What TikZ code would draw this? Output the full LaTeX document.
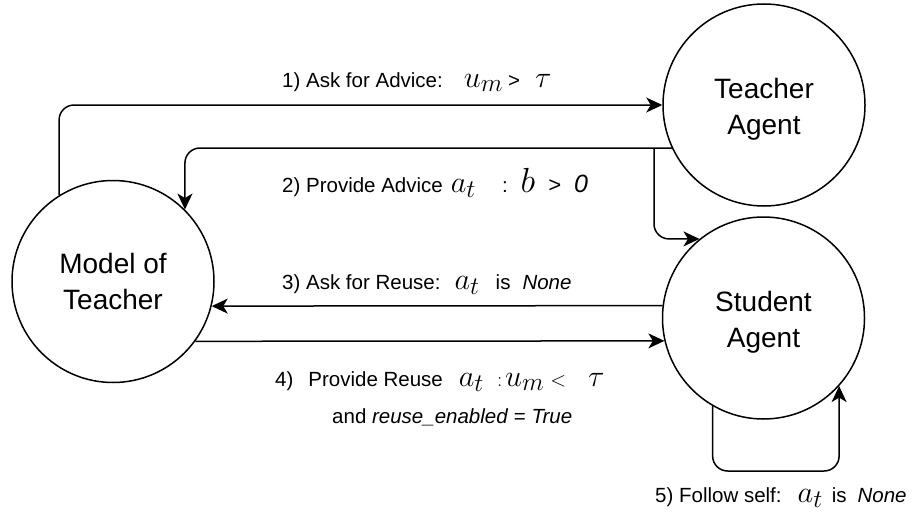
\documentclass[tikz,border=0pt]{standalone}
\usepackage{graphicx}
\usepackage{fontspec}
\setmainfont{Liberation Sans}
\usetikzlibrary{arrows.meta}
\newcommand\mth[1]{\scalebox{1.22}{\fontsize{24.88}{26}\selectfont$#1$}}
\newcommand\mthb[1]{\scalebox{1.4}{\fontsize{24.88}{26}\selectfont$#1$}}
\newcommand\mths[1]{{\fontsize{22}{24}\selectfont$#1$}}
\newcommand\lift{\rule{0pt}{28.5pt}}
\tikzset{
  agent/.style={circle, draw, line width=1.5pt, minimum size=202pt, inner sep=0pt, align=center,
    font=\fontsize{28}{36}\selectfont},
  lbl/.style={inner sep=0pt, anchor=base west, font=\fontsize{20.5}{24}\selectfont},
  arr/.style={line width=1.5pt, -{Stealth[length=16pt,width=15pt,inset=4.5pt]}},
  rnd/.style={rounded corners=15pt}
}
\begin{document}
\begin{tikzpicture}[x=1pt,y=-1pt]
\useasboundingbox[fill=white] (0,0) rectangle (912,511);
\node[agent] (mt) at (113,281.5) {Model of\\Teacher};
\node[agent] (ta) at (764,105) {\lift Teacher\\Agent};
\node[agent] (sa) at (763.5,318) {\lift Student\\Agent};
\coordinate (br) at (654,148.05);
\coordinate (lp) at (775,471);
\draw[arr,rnd] (mt.122.8) |- (ta.west);
\draw[arr,rnd] (ta.205.5) -| (mt.45);
\draw[arr,rnd] (br) |- (sa.129.4);
\draw[arr] (sa.173.7) -- (mt.-14.5);
\draw[arr] (mt.-36.6) -- (sa.193.7);
\draw[arr,rnd] (sa.-120) |- (lp) -| (sa.-42.5);
\node[lbl] (l1) at (282,87) {1) Ask for Advice:\hspace{21pt}\mth{u_m}\hspace{5pt}>\hspace{15pt}\mth{\tau}};
\node[lbl] (l2) at (282,192) {2) Provide Advice\hspace{8pt}\mth{a_t}\hspace{26pt}:\hspace{13pt}\mthb{b}\hspace{13pt}{\fontsize{22}{24}\selectfont\itshape >}\hspace{13pt}{\fontsize{25}{26}\selectfont\itshape 0}};
\node[lbl] (l3) at (282,289) {3) Ask for Reuse:\hspace{14pt}\mth{a_t}\hspace{16pt}is\hspace{12pt}\textit{None}};
\node[lbl] (l4) at (275,386) {4)\hspace{15pt}Provide Reuse\hspace{16pt}\mth{a_t}\hspace{13pt}\mths{:}\hspace{3pt}\mth{u_m}\hspace{6pt}\mths{<}\hspace{22pt}\mth{\tau}};
\node[lbl] (l4b) at (332,423) {and \textit{reuse\_enabled} = \textit{True}};
\node[lbl] (l5) at (655,502) {5) Follow self:\hspace{16pt}\mth{a_t}\hspace{9pt}is\hspace{11pt}\textit{None}};
\end{tikzpicture}
\end{document}
